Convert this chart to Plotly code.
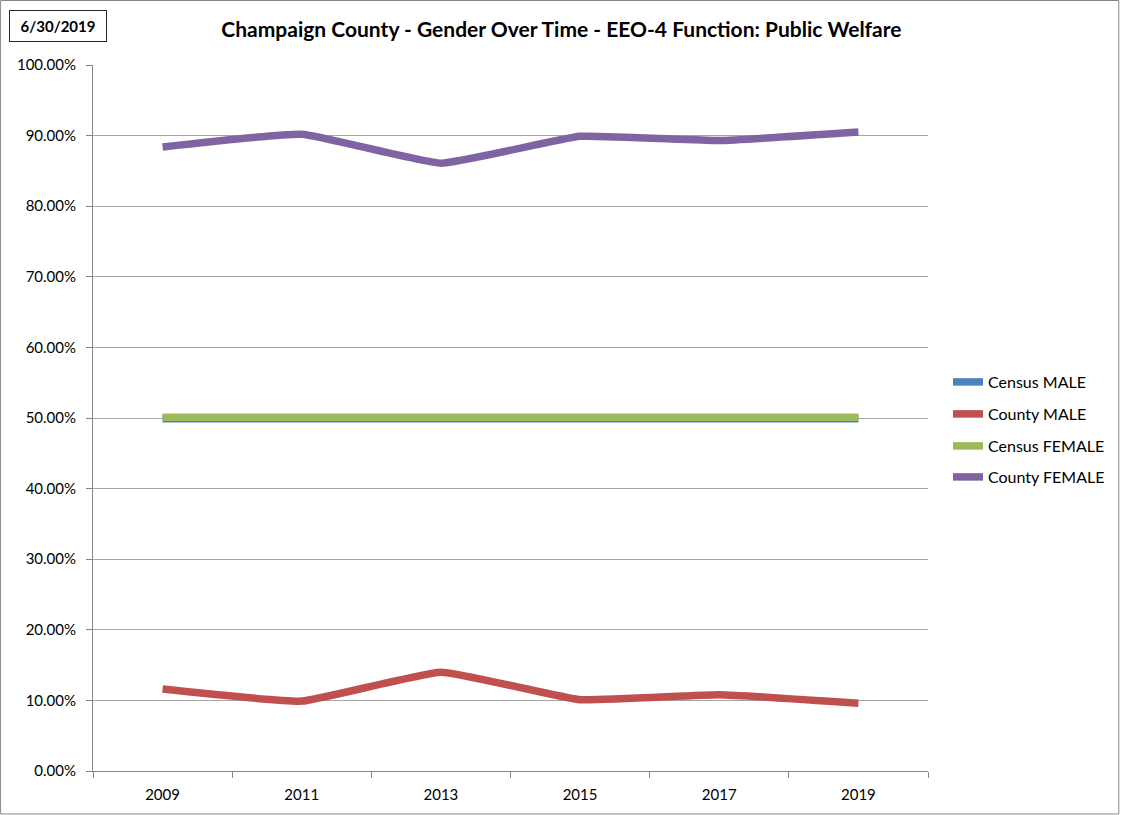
import plotly.graph_objects as go

years = ["2009", "2011", "2013", "2015", "2017", "2019"]
census_male = [0.499, 0.499, 0.499, 0.499, 0.499, 0.499]
county_male = [0.116, 0.099, 0.140, 0.101, 0.108, 0.096]
census_female = [0.501, 0.501, 0.501, 0.501, 0.501, 0.501]
county_female = [0.884, 0.902, 0.861, 0.899, 0.893, 0.905]

names = ["Census MALE", "County MALE", "Census FEMALE", "County FEMALE"]
series = [census_male, county_male, census_female, county_female]
colors = ["#4F81BD", "#C0504D", "#9BBB59", "#8064A2"]

FONT = "Lato, Carlito, 'Open Sans', sans-serif"

W, H = 1121, 815
L, R, T, B = 93, 192, 65, 44
pw, ph = W - L - R, H - T - B

def px_x(x):
    return (x - L) / pw

def px_y(y):
    return (H - B - y) / ph

fig = go.Figure()
legend_keys = ["legend", "legend2", "legend3", "legend4"]
legend_y = [382, 414, 446, 477]
for i, (n, s, c) in enumerate(zip(names, series, colors)):
    fig.add_trace(go.Scatter(
        x=years, y=s, name=n, mode="lines",
        line=dict(color=c, width=7.5, shape="spline", smoothing=0.35),
        legend=legend_keys[i],
    ))

legend_layout = {}
for i, k in enumerate(legend_keys):
    legend_layout[k] = dict(
        x=px_x(948), y=px_y(legend_y[i]), xanchor="left", yanchor="middle",
        font=dict(family=FONT, size=16, color="#000000"),
        bgcolor="rgba(0,0,0,0)", borderwidth=0,
        itemwidth=30, tracegroupgap=0,
    )

fig.update_layout(
    width=W, height=H,
    margin=dict(l=L, r=R, t=T, b=B),
    paper_bgcolor="white", plot_bgcolor="white",
    font=dict(family=FONT, size=15, color="#000000"),
    title=dict(
        text="<b>Champaign County - Gender Over Time - EEO-4 Function: Public Welfare</b>",
        x=px_x(562), xref="paper", xanchor="center",
        y=1 - 30 / H, yref="container", yanchor="middle",
        font=dict(family=FONT, size=21, color="#000000"),
    ),
    showlegend=True,
    **legend_layout,
    xaxis=dict(
        type="category", tickson="boundaries",
        showline=True, linecolor="#868686", linewidth=1,
        ticks="outside", ticklen=6, tickcolor="#868686",
        showgrid=False, zeroline=False,
        tickfont=dict(family=FONT, size=15),
        ticklabelstandoff=10,
        range=[-0.5, 5.5],
    ),
    yaxis=dict(
        range=[0, 1], dtick=0.1, tickformat=".2%",
        showline=True, linecolor="#868686", linewidth=1,
        ticks="outside", ticklen=6, tickcolor="#868686",
        showgrid=True, gridcolor="#A6A6A6", gridwidth=1,
        zeroline=False,
        tickfont=dict(family=FONT, size=15),
        ticklabelstandoff=7,
    ),
)

fig.add_shape(
    type="rect", xref="paper", yref="paper",
    x0=px_x(0.5), x1=px_x(1120), y0=px_y(814), y1=px_y(0.5),
    line=dict(color="#868686", width=1), fillcolor="rgba(0,0,0,0)",
    layer="below",
)

fig.add_annotation(
    text="<b>6/30/2019</b>", xref="paper", yref="paper",
    x=px_x(58), y=px_y(26), xanchor="center", yanchor="middle",
    showarrow=False, font=dict(family=FONT, size=15, color="#000000"),
    bordercolor="#262626", borderwidth=1, borderpad=6,
    bgcolor="white", width=84,
)

fig.write_html("out.html", config={"displayModeBar": False},
               post_script="document.body.style.margin='0px';")
